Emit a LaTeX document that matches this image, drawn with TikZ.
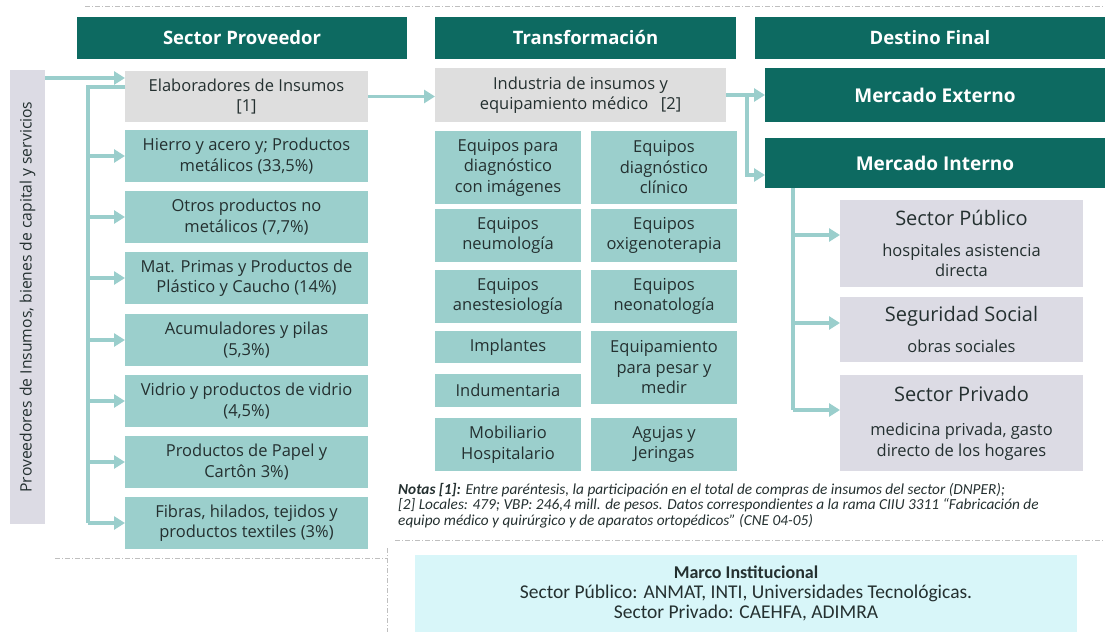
\documentclass[tikz,border=0pt]{standalone}
\usepackage{fontspec}
\setmainfont{Open Sans}
\newfontfamily\calibri{Carlito}
\usepackage{xcolor}
\usetikzlibrary{arrows.meta,positioning,calc}
\definecolor{verde}{HTML}{0D6A61}
\definecolor{turquesa}{HTML}{9BCFCC}
\definecolor{grisclaro}{HTML}{DEDEDE}
\definecolor{lila}{HTML}{DCDBE4}
\definecolor{celeste}{HTML}{D8F6F9}
\definecolor{flechac}{HTML}{9ACECC}
\definecolor{texto}{HTML}{243030}
\tikzset{
  encabezado/.style={fill=verde, text=white, font=\bfseries\fontsize{18.5}{20}\selectfont,
    minimum height=42pt, inner sep=0pt, outer sep=0pt, anchor=north west},
  bloque/.style={text=texto, align=center, font=\fontsize{16.5}{20.5}\selectfont,
    inner sep=0pt, outer sep=0pt, anchor=north west},
  insumo/.style={bloque, fill=grisclaro},
  rubro/.style={bloque, fill=turquesa},
  mercado/.style={bloque, fill=verde, text=white, font=\bfseries\fontsize{19}{21}\selectfont},
  destino/.style={bloque, fill=lila},
  colA/.style={minimum width=243pt},
  colB/.style={minimum width=146pt},
  flecha/.style={draw=flechac, line width=3.5pt, -{Triangle[length=11pt,width=13pt]}},
  linea/.style={draw=flechac, line width=3.5pt},
  guiones/.style={draw=black!25, line width=0.7pt, dash pattern=on 5pt off 2pt on 1pt off 2pt}
}
\newcommand\titdestino{\fontsize{20}{22}\selectfont}

\begin{document}
\begin{tikzpicture}[x=1pt, y=1pt]
  \useasboundingbox (0,0) rectangle (1105,-632);

  % marcos punteados
  \draw[guiones] (85,-6) -- (1105,-6);
  \draw[guiones] (55,-558) -- (387,-558);
  \draw[guiones] (387,-548) -- (387,-632);
  \draw[guiones] (395,-540) -- (1105,-540);

  % encabezados de columna
  \node[encabezado, minimum width=330pt] (hProv) at (77,-17) {Sector Proveedor};
  \node[encabezado, minimum width=301pt] (hTrans) at (435,-17) {Transformación};
  \node[encabezado, minimum width=350pt] (hDest) at (755,-17) {Destino Final};

  % proveedores
  \node[bloque, fill=lila, minimum width=35pt, minimum height=454pt] (prov) at (10,-70) {};
  \node[bloque, rotate=90, anchor=center, font=\fontsize{15.7}{18}\selectfont] (provTxt) at (prov.center)
    {Proveedores de Insumos, bienes de capital y servicios};

  \node[insumo, colA, minimum height=51pt] (elab) at (125,-71) {Elaboradores de Insumos\\{[1]}};
  \node[rubro, colA, minimum height=52pt] (hierro) at (125,-130) {Hierro y acero y; Productos\\metálicos (33,5\%)};
  \node[rubro, colA, minimum height=52pt] (otros) at (125,-191) {Otros productos no\\metálicos (7,7\%)};
  \node[rubro, colA, minimum height=52pt] (plastico) at (125,-252) {Mat. Primas y Productos de\\Plástico y Caucho (14\%)};
  \node[rubro, colA, minimum height=52pt] (acum) at (125,-314) {Acumuladores y pilas\\(5,3\%)};
  \node[rubro, colA, minimum height=52pt] (vidrio) at (125,-375) {Vidrio y productos de vidrio\\(4,5\%)};
  \node[rubro, colA, minimum height=52pt] (papel) at (125,-436) {Productos de Papel y\\Cartôn 3\%)};
  \node[rubro, colA, minimum height=52pt] (fibras) at (125,-497) {Fibras, hilados, tejidos y\\productos textiles (3\%)};

  % transformacion
  \node[insumo, minimum width=291pt, minimum height=54pt] (ind) at (435,-68)
    {Industria de insumos y\\equipamiento médico \enspace{[2]}};
  \node[rubro, colB, minimum height=73pt] (eqImg) at (435,-131) {Equipos para\\diagnóstico\\con imágenes};
  \node[rubro, colB, minimum height=73pt] (eqClin) at (591,-131) {Equipos\\diagnóstico\\clínico};
  \node[rubro, colB, minimum height=53pt] (eqNeumo) at (435,-209) {Equipos\\neumología};
  \node[rubro, colB, minimum height=53pt] (eqOxi) at (591,-209) {Equipos\\oxigenoterapia};
  \node[rubro, colB, minimum height=53pt] (eqAnest) at (435,-270) {Equipos\\anestesiología};
  \node[rubro, colB, minimum height=53pt] (eqNeo) at (591,-270) {Equipos\\neonatología};
  \node[rubro, colB, minimum height=32pt] (implantes) at (435,-331) {Implantes};
  \node[rubro, colB, minimum height=33pt] (indum) at (435,-374) {Indumentaria};
  \node[rubro, colB, minimum height=73pt] (pesar) at (591,-331) {Equipamiento\\para pesar y\\medir};
  \node[rubro, colB, minimum height=53pt] (mobil) at (435,-418) {Mobiliario\\Hospitalario};
  \node[rubro, colB, minimum height=53pt] (agujas) at (591,-418) {Agujas y\\Jeringas};

  % destino final
  \node[mercado, minimum width=340pt, minimum height=54pt] (ext) at (765,-68) {Mercado Externo};
  \node[mercado, minimum width=340pt, minimum height=50pt] (int) at (765,-138) {Mercado Interno};
  \node[destino, minimum width=243pt, minimum height=87pt] (pub) at (840,-200)
    {{\titdestino Sector Público}\\[10pt]hospitales asistencia\\directa};
  \node[destino, minimum width=243pt, minimum height=65pt] (seg) at (840,-297)
    {{\titdestino Seguridad Social}\\[10pt]obras sociales};
  \node[destino, minimum width=243pt, minimum height=96pt] (priv) at (840,-375)
    {{\titdestino Sector Privado}\\[14pt]medicina privada, gasto\\directo de los hogares};

  % notas y marco institucional
  \node[anchor=north west, align=left, text=texto, inner sep=0pt,
        font=\calibri\itshape\fontsize{15.3}{15.5}\selectfont] (notas) at (398,-483)
    {\textbf{Notas [1]:} Entre paréntesis, la participación en el total de compras de insumos del sector (DNPER);\\
     {[2]} Locales: 479; VBP: 246,4 mill. de pesos. Datos correspondientes a la rama CIIU 3311 “Fabricación de\\
     equipo médico y quirúrgico y de aparatos ortopédicos” (CNE 04-05)};
  \node[bloque, fill=celeste, minimum width=662pt, minimum height=77pt,
        font=\calibri\fontsize{19.5}{20}\selectfont] (marco) at (415,-555)
    {\textbf{\fontsize{18}{20}\selectfont Marco Institucional}\\
     Sector Público: ANMAT, INTI, Universidades Tecnológicas.\\
     Sector Privado: CAEHFA, ADIMRA};

  % flujos
  \coordinate (busProv) at (88,-87);
  \coordinate (busInd) at (747,-95);
  \coordinate (busInt) at (793,-188);
  \coordinate (aInt) at (747,-175);

  \draw[flecha] (prov.east |- 0,-78) -- (elab.west |- 0,-78);
  \draw[linea] (elab.west |- busProv) -- (busProv) -- (busProv |- fibras.west);
  \foreach \r in {hierro,otros,plastico,acum,vidrio,papel,fibras}
    \draw[flecha] (busProv |- \r.west) -- (\r.west);

  \draw[flecha] (elab.east) -- (elab.east -| ind.west);
  \draw[flecha] (ind.east |- busInd) -- (ext.west |- busInd);
  \draw[flecha] (busInd) -- (aInt) -- (aInt -| int.west);

  \draw[linea] (busInt) -- (busInt |- 0,-410);
  \draw[flecha] (busInt |- 0,-235) -- (pub.west |- 0,-235);
  \draw[flecha] (busInt |- 0,-323) -- (seg.west |- 0,-323);
  \draw[flecha] (busInt |- 0,-410) -- (priv.west |- 0,-410);
\end{tikzpicture}
\end{document}
